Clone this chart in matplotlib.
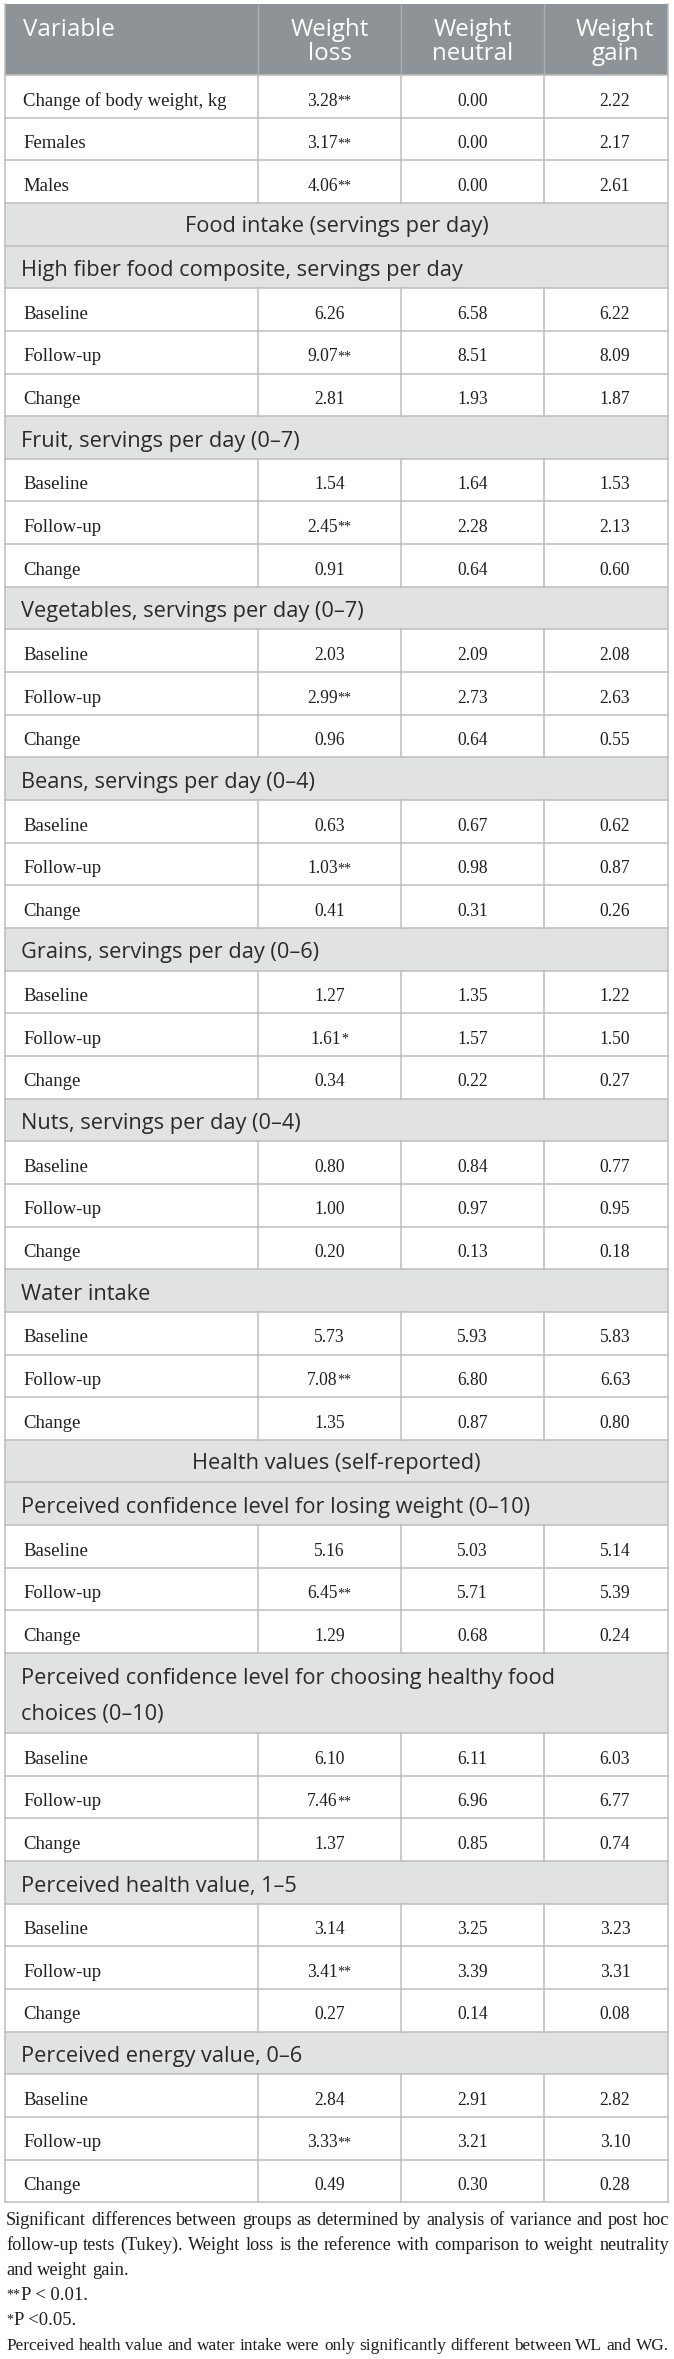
import matplotlib
matplotlib.use("Agg")
import matplotlib.pyplot as plt
from matplotlib.patches import Rectangle

# table contents
COLUMNS = ["Weight\nloss", "Weight\nneutral", "Weight\ngain"]
STAGES = ["Baseline", "Follow-up", "Change"]

BODY_LABELS = ["Change of body weight, kg", "Females", "Males"]
BODY_VALUES = [[3.28, 0.00, 2.22], [3.17, 0.00, 2.17], [4.06, 0.00, 2.61]]
BODY_SIG = ["**", "**", "**"]

FOOD_TITLE = "Food intake (servings per day)"
FOOD_ITEMS = [
    "High fiber food composite, servings per day",
    "Fruit, servings per day (0\u20137)",
    "Vegetables, servings per day (0\u20137)",
    "Beans, servings per day (0\u20134)",
    "Grains, servings per day (0\u20136)",
    "Nuts, servings per day (0\u20134)",
    "Water intake",
]
FOOD_BASELINE = [[6.26, 6.58, 6.22], [1.54, 1.64, 1.53], [2.03, 2.09, 2.08],
                 [0.63, 0.67, 0.62], [1.27, 1.35, 1.22], [0.80, 0.84, 0.77],
                 [5.73, 5.93, 5.83]]
FOOD_FOLLOWUP = [[9.07, 8.51, 8.09], [2.45, 2.28, 2.13], [2.99, 2.73, 2.63],
                 [1.03, 0.98, 0.87], [1.61, 1.57, 1.50], [1.00, 0.97, 0.95],
                 [7.08, 6.80, 6.63]]
FOOD_CHANGE = [[2.81, 1.93, 1.87], [0.91, 0.64, 0.60], [0.96, 0.64, 0.55],
               [0.41, 0.31, 0.26], [0.34, 0.22, 0.27], [0.20, 0.13, 0.18],
               [1.35, 0.87, 0.80]]
FOOD_SIG = ["**", "**", "**", "**", "*", "", "**"]

HEALTH_TITLE = "Health values (self-reported)"
HEALTH_ITEMS = [
    "Perceived confidence level for losing weight (0\u201310)",
    "Perceived confidence level for choosing healthy food\nchoices (0\u201310)",
    "Perceived health value, 1\u20135",
    "Perceived energy value, 0\u20136",
]
HEALTH_BASELINE = [[5.16, 5.03, 5.14], [6.10, 6.11, 6.03],
                   [3.14, 3.25, 3.23], [2.84, 2.91, 2.82]]
HEALTH_FOLLOWUP = [[6.45, 5.71, 5.39], [7.46, 6.96, 6.77],
                   [3.41, 3.39, 3.31], [3.33, 3.21, 3.10]]
HEALTH_CHANGE = [[1.29, 0.68, 0.24], [1.37, 0.85, 0.74],
                 [0.27, 0.14, 0.08], [0.49, 0.30, 0.28]]
HEALTH_SIG = ["**", "**", "**", "**"]

NOTES = [
    "Significant differences between groups as determined by analysis of variance and post hoc",
    "follow-up tests (Tukey). Weight loss is the reference with comparison to weight neutrality",
    "and weight gain.",
    "**P < 0.01.",
    "*P <0.05.",
    "Perceived health value and water intake were only significantly different between WL and WG.",
]

# layout (pixels)
W, H = 674, 2359
COL_X = [5, 258, 401, 544, 668]
VAL_X = [329.5, 472.5, 615]
TOP, HEAD_BOT = 4, 75
ROW_H, LINE_H = 42.65, 37.35
BASE_OFF = 30.5

SERIF = "Liberation Serif"
SANS = "Open Sans"
HEAD_BG = "#8d9396"
SUB_BG = "#e1e3e3"
GRID = "#bdbdbd"
INK = "#1e1e1e"
SUB_INK = "#2a2a2a"

fig = plt.figure(figsize=(W / 100, H / 100), dpi=100)
ax = fig.add_axes([0, 0, 1, 1])
ax.set_xlim(0, W)
ax.set_ylim(H, 0)
ax.axis("off")
r = fig.canvas.get_renderer()


def width(t):
    return t.get_window_extent(r).width


def fit_size(text, family, target):
    # font size that gives the text the width seen in the reference
    t = ax.text(0, 0, text, family=family, fontsize=20)
    w = width(t)
    t.remove()
    return 20 * target / w


FS_LABEL = fit_size("Change of body weight, kg", SERIF, 204)
FS_VALUE = fit_size("0.00", SERIF, 30.5)
FS_HEAD = fit_size("Weight", SANS, 78)
FS_SUB = fit_size("High fiber food composite, servings per day", SANS, 440)
FS_NOTE = fit_size("and weight gain.", SERIF, 123)


def value_text(cx, y, val, sig):
    t = ax.text(0, y, f"{val:.2f}", family=SERIF, fontsize=FS_VALUE,
                color=INK, va="baseline", ha="left")
    w = width(t)
    total = w
    a = None
    if sig:
        a = ax.text(0, y - 1, sig, family=SERIF, fontsize=FS_VALUE * 0.8,
                    color=INK, va="baseline", ha="left")
        total += width(a)
    x = cx - total / 2
    t.set_x(x)
    if a is not None:
        a.set_x(x + w)


def justify(line, y, x0, x1, fs, stretch=True):
    words = line.split(" ")
    texts = [ax.text(0, y, wd, family=SERIF, fontsize=fs, color=INK,
                     va="baseline", ha="left") for wd in words]
    ws = [width(t) for t in texts]
    space = fs * 100 / 72 * 0.25
    natural = sum(ws) + space * (len(words) - 1)
    if natural > x1 - x0:
        k = (x1 - x0) / natural * 0.995
        for t in texts:
            t.set_fontsize(fs * k)
        ws = [width(t) for t in texts]
        space *= k
    gap = (x1 - x0 - sum(ws)) / (len(words) - 1) if stretch else space
    x = x0
    for t, w in zip(texts, ws):
        t.set_x(x)
        x += w + gap


def star_note(line, y, x0, fs):
    stars = line[:len(line) - len(line.lstrip("*"))]
    a = ax.text(x0, y - 2, stars, family=SERIF, fontsize=fs * 0.75,
                color=INK, va="baseline", ha="left")
    ax.text(x0 + width(a) + 1, y, line[len(stars):], family=SERIF,
            fontsize=fs, color=INK, va="baseline", ha="left")


# build row list
rows = []
for lab, vals, sig in zip(BODY_LABELS, BODY_VALUES, BODY_SIG):
    rows.append(("data", lab, vals, sig))


def add_block(title, items, base, follow, change, sigs):
    rows.append(("section", title, None, ""))
    for i, item in enumerate(items):
        rows.append(("sub", item, None, ""))
        rows.append(("data", STAGES[0], base[i], ""))
        rows.append(("data", STAGES[1], follow[i], sigs[i]))
        rows.append(("data", STAGES[2], change[i], ""))


add_block(FOOD_TITLE, FOOD_ITEMS, FOOD_BASELINE, FOOD_FOLLOWUP, FOOD_CHANGE, FOOD_SIG)
add_block(HEALTH_TITLE, HEALTH_ITEMS, HEALTH_BASELINE, HEALTH_FOLLOWUP,
          HEALTH_CHANGE, HEALTH_SIG)

# header
ax.add_patch(Rectangle((COL_X[0], TOP), COL_X[-1] - COL_X[0], HEAD_BOT - TOP,
                       facecolor=HEAD_BG, edgecolor="none"))
for x in COL_X[1:-1]:
    ax.plot([x, x], [TOP, HEAD_BOT], color="#a9aeb1", lw=1.0)
ax.text(23, 36, "Variable", family=SANS, fontsize=FS_HEAD, color="white",
        va="baseline", ha="left")
for cx, name in zip(VAL_X, COLUMNS):
    for j, part in enumerate(name.split("\n")):
        ax.text(cx, 36 + 24.5 * j, part, family=SANS, fontsize=FS_HEAD,
                color="white", va="baseline", ha="center")

# body rows
y = HEAD_BOT
for kind, label, vals, sig in rows:
    nlines = label.count("\n") + 1
    h = ROW_H + LINE_H * (nlines - 1)
    if kind != "data":
        ax.add_patch(Rectangle((COL_X[0], y), COL_X[-1] - COL_X[0], h,
                               facecolor=SUB_BG, edgecolor="none"))
    else:
        for x in COL_X[1:-1]:
            ax.plot([x, x], [y, y + h], color=GRID, lw=1.1)
    ax.plot([COL_X[0], COL_X[-1]], [y, y], color=GRID, lw=1.1)
    if kind == "section":
        ax.text((COL_X[0] + COL_X[-1]) / 2, y + BASE_OFF - 1, label, family=SANS,
                fontsize=FS_SUB, color=SUB_INK, va="baseline", ha="center")
    elif kind == "sub":
        for j, part in enumerate(label.split("\n")):
            ax.text(21, y + BASE_OFF + 36 * j, part, family=SANS,
                    fontsize=FS_SUB, color=SUB_INK, va="baseline", ha="left")
    else:
        ax.text(23, y + BASE_OFF, label, family=SERIF, fontsize=FS_LABEL,
                color=INK, va="baseline", ha="left")
        for k, (cx, v) in enumerate(zip(VAL_X, vals)):
            value_text(cx, y + BASE_OFF, v, sig if k == 0 else "")
    y += h

bottom = y
ax.plot([COL_X[0], COL_X[-1]], [bottom, bottom], color=GRID, lw=1.1)
ax.plot([COL_X[0], COL_X[0]], [TOP, bottom], color=GRID, lw=1.1)
ax.plot([COL_X[-1], COL_X[-1]], [TOP, bottom], color=GRID, lw=1.1)

# footnotes
fy = bottom + 23
for i, line in enumerate(NOTES):
    if line.startswith("*"):
        star_note(line, fy + 25 * i, 6, FS_NOTE)
    else:
        justify(line, fy + 25 * i, 6, 669, FS_NOTE, stretch=i in (0, 1, 5))

fig.savefig("out.png", dpi=100)
